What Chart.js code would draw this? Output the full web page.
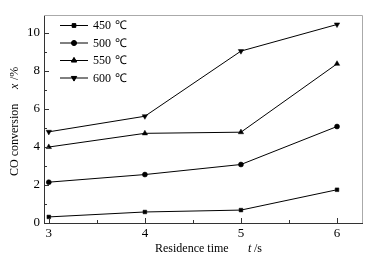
<!DOCTYPE html>
<html><head><meta charset="utf-8">
<script src="https://cdn.jsdelivr.net/npm/chart.js@4"></script>
<style>html,body{margin:0;padding:0;background:#fff}#w{width:379px;height:261px}</style>
</head><body><div id="w"><canvas id="c"></canvas></div>
<script>
const residenceTime = [3, 4, 5, 6];
const seriesLabels = ['450 ℃', '500 ℃', '550 ℃', '600 ℃'];
const conv450 = [0.32, 0.58, 0.68, 1.75];
const conv500 = [2.15, 2.55, 3.08, 5.08];
const conv550 = [4.0, 4.72, 4.78, 8.38];
const conv600 = [4.8, 5.62, 9.05, 10.45];
const xTicks = [3, 4, 5, 6];
const yTicks = [0, 2, 4, 6, 8, 10];
const markers = ['rect', 'circle', 'triangle', 'triangle'];
const rotations = [0, 0, 0, 180];

const FONT = '"Liberation Serif", "Times New Roman", serif';
const allSeries = [conv450, conv500, conv550, conv600];
const datasets = allSeries.map((vals, i) => ({
  label: seriesLabels[i],
  data: residenceTime.map((t, j) => ({x: t, y: vals[j]})),
  borderColor: '#000', backgroundColor: '#000', borderWidth: 1,
  pointStyle: markers[i], pointRotation: rotations[i],
  pointRadius: markers[i] === 'rect' ? 2.6 : (markers[i] === 'circle' ? 2.5 : 3.1),
  pointBorderWidth: 0.5, tension: 0
}));

const decor = {
  id: 'decor',
  afterDraw(chart) {
    const ctx = chart.ctx, a = chart.chartArea, xs = chart.scales.x, ys = chart.scales.y;
    ctx.save();
    // top/right frame
    ctx.strokeStyle = '#aaa'; ctx.lineWidth = 1;
    ctx.beginPath();
    ctx.moveTo(a.left, a.top + 0.5); ctx.lineTo(a.right + 0.5, a.top + 0.5); ctx.lineTo(a.right + 0.5, a.bottom);
    ctx.stroke();
    // inward ticks
    ctx.strokeStyle = '#333';
    ctx.beginPath();
    for (let v = 3; v <= 6.01; v += 0.5) {
      const px = Math.round(xs.getPixelForValue(v)) + 0.5;
      const len = (Math.abs(v - Math.round(v)) < 1e-6) ? 5 : 3;
      ctx.moveTo(px, a.bottom); ctx.lineTo(px, a.bottom - len);
    }
    for (let v = 0; v <= 10.01; v += 1) {
      const py = Math.round(ys.getPixelForValue(v)) + 0.5;
      const len = (v % 2 === 0) ? 5 : 3;
      ctx.moveTo(a.left, py); ctx.lineTo(a.left + len, py);
    }
    ctx.stroke();
    // legend
    ctx.fillStyle = '#000'; ctx.textBaseline = 'middle'; ctx.textAlign = 'left';
    const rows = [25.5, 43, 60.5, 78];
    datasets.forEach((d, i) => {
      const y = rows[i];
      ctx.strokeStyle = '#000'; ctx.lineWidth = 1;
      ctx.beginPath(); ctx.moveTo(60, y); ctx.lineTo(88, y); ctx.stroke();
      Chart.helpers.drawPoint(ctx, {pointStyle: d.pointStyle, rotation: d.pointRotation, radius: d.pointRadius, borderWidth: 0.5}, 74, y);
      ctx.fill();
      const parts = d.label.split(' ');
      ctx.font = '12px ' + FONT;
      ctx.fillText(parts[0], 93, y + 0.5);
      ctx.fillText(parts[1], 115, y + 0.5);
    });
    // x title
    ctx.textAlign = 'left'; ctx.textBaseline = 'middle';
    ctx.font = '12px ' + FONT;
    ctx.fillText('Residence time', 155, 249);
    ctx.font = 'italic 12px ' + FONT;
    ctx.fillText('t', 248, 249);
    ctx.font = '12px ' + FONT;
    ctx.fillText(' /s', 251, 249);
    // y title
    ctx.translate(15, 176); ctx.rotate(-Math.PI / 2);
    ctx.fillText('CO conversion', 0, 0);
    ctx.font = 'italic 12px ' + FONT;
    ctx.fillText('x', 87, 0);
    ctx.font = '12px ' + FONT;
    ctx.fillText(' /%', 93, 0);
    ctx.restore();
  }
};

new Chart(document.getElementById('c'), {
  type: 'line',
  data: {datasets},
  options: {
    responsive: true, maintainAspectRatio: false, animation: false,
    devicePixelRatio: 1,
    layout: {padding: {top: 15, right: 17, left: 0, bottom: 0}},
    plugins: {legend: {display: false}, tooltip: {enabled: false}},
    scales: {
      x: {
        type: 'linear', min: 2.95, max: 6.26,
        afterBuildTicks: s => { s.ticks = xTicks.map(v => ({value: v})); },
        afterFit: s => { s.height = 38; },
        grid: {display: false, drawTicks: false},
        border: {display: true, color: '#333', width: 1},
        ticks: {color: '#000', font: {family: FONT, size: 13}, padding: 3}
      },
      y: {
        min: 0, max: 10.95,
        afterBuildTicks: s => { s.ticks = yTicks.map(v => ({value: v})); },
        afterFit: s => { s.width = 44; },
        grid: {display: false, drawTicks: false},
        border: {display: true, color: '#333', width: 1},
        ticks: {color: '#000', font: {family: FONT, size: 13}, padding: 4}
      }
    }
  },
  plugins: [decor]
});
</script></body></html>
